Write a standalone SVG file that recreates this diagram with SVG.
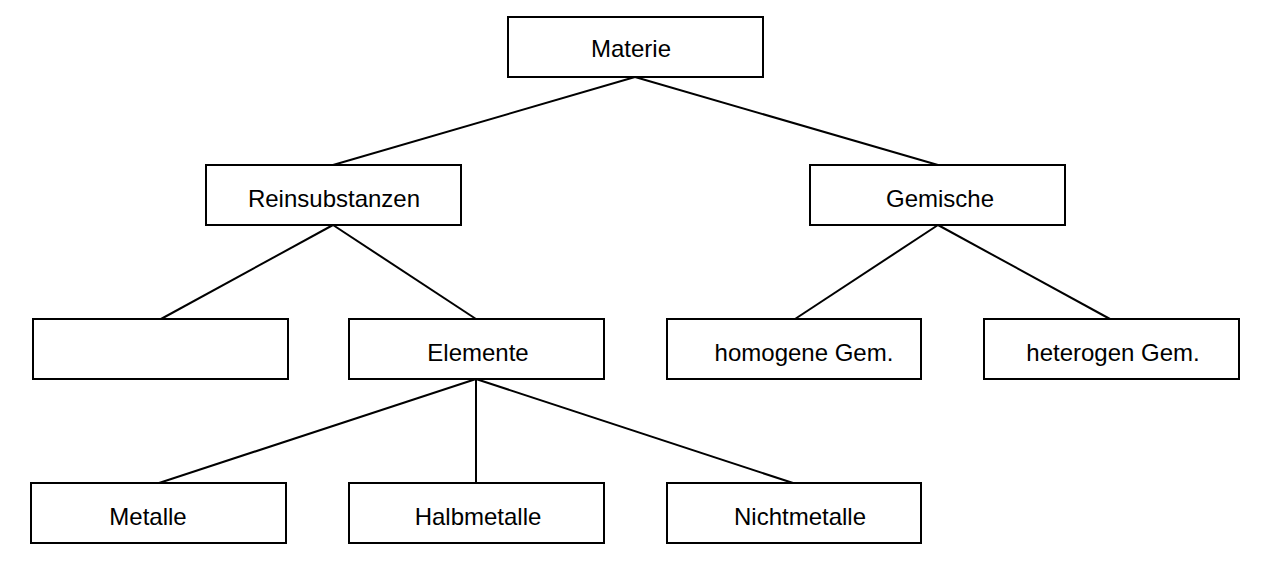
<svg xmlns="http://www.w3.org/2000/svg" width="1265" height="567" viewBox="0 0 1265 567">
<style>
rect{fill:#fff;stroke:#000;stroke-width:2}
text{font-family:"Liberation Sans",Arial,sans-serif;font-size:24px;fill:#000;text-anchor:middle;dominant-baseline:central}
#connectors line{stroke:#000;stroke-width:2}
</style>
<rect x="0" y="0" width="1265" height="567" style="stroke:none"/>
<g id="connectors">
<line x1="635" y1="77" x2="333" y2="165"/>
<line x1="635" y1="77" x2="938" y2="165"/>
<line x1="333" y1="225" x2="161" y2="319"/>
<line x1="333" y1="225" x2="476" y2="319"/>
<line x1="938" y1="225" x2="795" y2="319"/>
<line x1="938" y1="225" x2="1110" y2="319"/>
<line x1="476" y1="379" x2="159" y2="483"/>
<line x1="476" y1="379" x2="476" y2="483"/>
<line x1="476" y1="379" x2="793" y2="483"/>
</g>
<g id="materie"><rect x="508" y="17" width="255" height="60"/><text x="631" y="48">Materie</text></g>
<g id="reinsubstanzen"><rect x="206" y="165" width="255" height="60"/><text x="334" y="198">Reinsubstanzen</text></g>
<g id="gemische"><rect x="810" y="165" width="255" height="60"/><text x="940" y="198">Gemische</text></g>
<g id="leer"><rect x="33" y="319" width="255" height="60"/></g>
<g id="elemente"><rect x="349" y="319" width="255" height="60"/><text x="478" y="352">Elemente</text></g>
<g id="homogen"><rect x="667" y="319" width="254" height="60"/><text x="804" y="352">homogene Gem.</text></g>
<g id="heterogen"><rect x="984" y="319" width="255" height="60"/><text x="1113" y="352">heterogen Gem.</text></g>
<g id="metalle"><rect x="31" y="483" width="255" height="60"/><text x="148" y="516">Metalle</text></g>
<g id="halbmetalle"><rect x="349" y="483" width="255" height="60"/><text x="478" y="516">Halbmetalle</text></g>
<g id="nichtmetalle"><rect x="667" y="483" width="254" height="60"/><text x="800" y="516">Nichtmetalle</text></g>
</svg>
